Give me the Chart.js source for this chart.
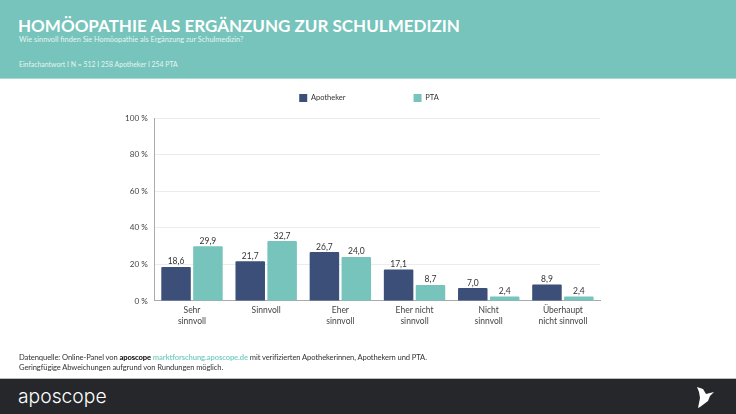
<!DOCTYPE html>
<html lang="de">
<head>
<meta charset="utf-8">
<title>Homöopathie als Ergänzung zur Schulmedizin</title>
<script src="https://cdn.jsdelivr.net/npm/chart.js@4"></script>
<style>
html, body { margin: 0; padding: 0; background: #fff; }
body { position: relative; width: 736px; height: 414px; overflow: hidden; font-family: Lato, sans-serif; }
#chart { position: absolute; left: 0; top: 0; }
.abs { position: absolute; white-space: nowrap; }
#head { position: absolute; left: 0; top: 0; width: 736px; height: 78px; background: #76c4bb; border-bottom: 1px solid #a5dbd4; }
#title { left: 18px; top: 13px; font-size: 17px; line-height: 26px; font-weight: 700; color: #fff; }
#sub { left: 19px; top: 34px; font-size: 7.35px; line-height: 12px; color: #e4f4f1; }
#sample { left: 19px; top: 58px; font-size: 6.9px; line-height: 12px; color: #e4f4f1; }
#src1 { left: 19px; top: 351px; font-size: 7.6px; letter-spacing: -0.1px; line-height: 12px; color: #333; }
#src2 { left: 19px; top: 361px; font-size: 7.6px; letter-spacing: -0.1px; line-height: 12px; color: #333; }
#src1 b { color: #000; }
#src1 span { color: #7dd0c5; font-weight: 700; }
#foot { position: absolute; left: 0; top: 378px; width: 736px; height: 36px; background: #25272a; border-top: 1px solid #bbb; }
#logo { left: 18px; top: 381px; font-family: Inter, sans-serif; font-size: 19.3px; line-height: 30px; font-weight: 300; color: #fff; }
#bird { position: absolute; left: 696px; top: 386px; }
</style>
</head>
<body>
<canvas id="chart" width="736" height="414"></canvas>
<div id="head"></div>
<div class="abs" id="title">HOMÖOPATHIE ALS ERGÄNZUNG ZUR SCHULMEDIZIN</div>
<div class="abs" id="sub">Wie sinnvoll finden Sie Homöopathie als Ergänzung zur Schulmedizin?</div>
<div class="abs" id="sample">Einfachantwort I N = 512 I 258 Apotheker I 254 PTA</div>
<div class="abs" id="src1">Datenquelle: Online-Panel von <b>aposcope</b> <span>marktforschung.aposcope.de</span> mit verifizierten Apothekerinnen, Apothekern und PTA.</div>
<div class="abs" id="src2">Geringfügige Abweichungen aufgrund von Rundungen möglich.</div>
<div id="foot"></div>
<div class="abs" id="logo">aposcope</div>
<svg id="bird" width="20" height="22" viewBox="0 0 20 22"><path fill="#fff" d="M1 1 L7 3 L10 8 L18 6 L14 10 L12 15 L4 21 L2 22 L4 12 L3 6 Z"/></svg>
<script>
var categories = [['Sehr', 'sinnvoll'], 'Sinnvoll', ['Eher', 'sinnvoll'], ['Eher nicht', 'sinnvoll'], ['Nicht', 'sinnvoll'], ['Überhaupt', 'nicht sinnvoll']];
var apotheker = [18.6, 21.7, 26.7, 17.1, 7.0, 8.9];
var pta = [29.9, 32.7, 24.0, 8.7, 2.4, 2.4];
var yTicks = [0, 20, 40, 60, 80, 100];

var FONT = 'Lato, sans-serif';

// value labels above each bar, german decimal comma
var barLabels = {
    id: 'barLabels',
    afterDatasetsDraw: function (chart) {
        var ctx = chart.ctx;
        ctx.save();
        ctx.font = '8.5px ' + FONT;
        ctx.fillStyle = '#333';
        ctx.textAlign = 'center';
        ctx.textBaseline = 'bottom';
        chart.data.datasets.forEach(function (ds, i) {
            chart.getDatasetMeta(i).data.forEach(function (bar, j) {
                ctx.fillText(ds.data[j].toFixed(1).replace('.', ','), bar.x, bar.y - 1);
            });
        });
        ctx.restore();
    }
};

// the layout padding is lopsided, so move the legend back to the page centre and up
var legendPlace = {
    id: 'legendPlace',
    afterLayout: function (chart) {
        chart.legend.left += 10;
        chart.legend.right += 10;
        chart.legend.top -= 6;
        chart.legend.bottom -= 6;
    }
};

var chart = new Chart(document.getElementById('chart'), {
    type: 'bar',
    data: {
        labels: categories,
        datasets: [
            { label: 'Apotheker', data: apotheker, backgroundColor: '#3b4f78', borderRadius: 1 },
            { label: 'PTA', data: pta, backgroundColor: '#76c4bb', borderRadius: 1 }
        ]
    },
    options: {
        responsive: false,
        animation: false,
        devicePixelRatio: 1,
        categoryPercentage: 0.86,
        barPercentage: 0.925,
        layout: { padding: { top: 32, left: 118, right: 136, bottom: 83 } },
        plugins: {
            tooltip: { enabled: false },
            legend: {
                position: 'top',
                labels: {
                    boxWidth: 8,
                    boxHeight: 8,
                    padding: 68,
                    color: '#333',
                    font: { family: FONT, size: 7.5 }
                }
            }
        },
        scales: {
            x: {
                grid: { display: false, drawTicks: false },
                border: { color: '#aaa' },
                ticks: { color: '#444', font: { family: FONT, size: 8.5, lineHeight: 1.3 }, padding: 4, maxRotation: 0, autoSkip: false }
            },
            y: {
                min: 0,
                max: 100,
                afterBuildTicks: function (axis) {
                    axis.ticks = yTicks.map(function (v) { return { value: v }; });
                },
                grid: { color: '#ececec', drawTicks: false },
                border: { color: '#aaa' },
                ticks: {
                    color: '#444',
                    font: { family: FONT, size: 8.2 },
                    padding: 7,
                    callback: function (v) { return v + ' %'; }
                }
            }
        }
    },
    plugins: [barLabels, legendPlace]
});
</script>
</body>
</html>
